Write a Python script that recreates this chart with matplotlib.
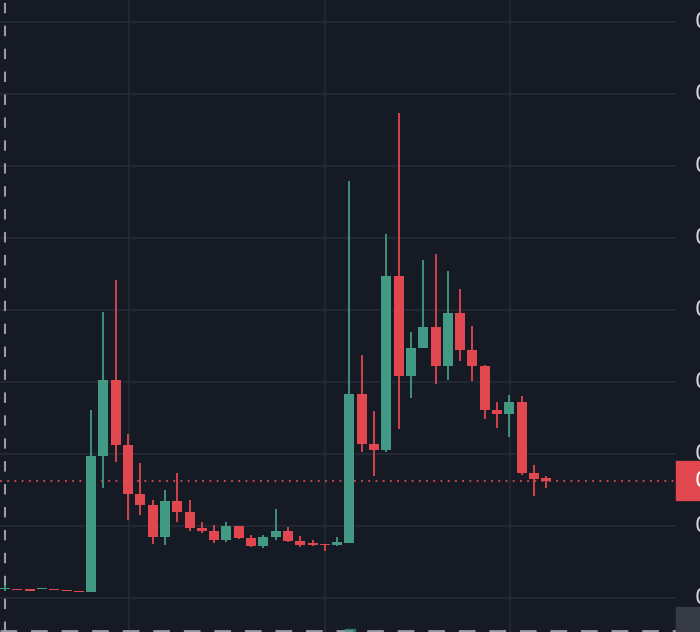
import matplotlib
matplotlib.use("Agg")
import matplotlib.pyplot as plt
import numpy as np

# candle readings (price units, 72 units per grid step)
opens = [43, 43, 42, 43, 43, 42, 41, 40, 176, 252, 187, 138, 127, 95, 131, 120, 104, 101, 92, 106,
         94, 86, 95, 101, 91, 89, 88, 87, 89, 238, 188, 182, 356, 256, 284, 305, 266, 319, 282, 266,
         222, 218, 230, 159, 154]
closes = [43, 42, 41.5, 43, 42, 41, 40, 176, 252, 187, 138, 127, 95, 131, 120, 104, 101, 92, 106, 94,
          86, 95, 101, 91, 87, 87, 87, 90, 238, 188, 182, 356, 256, 284, 305, 266, 319, 282, 266, 222,
          218, 230, 159, 153, 151]
highs = [47, 43, 42, 43, 43, 42, 41, 222, 320, 352, 198, 169, 132, 142, 159, 132, 110, 107, 110, 106,
         97, 97, 123, 105, 96, 92, 88, 95, 451, 277, 221, 398, 519, 300, 372, 378, 361, 343, 306, 267,
         230, 237, 236, 167, 156]
lows = [41, 42, 41.5, 43, 42, 41, 40, 40, 144, 170, 112, 117, 88, 87, 110, 101, 99, 89, 90, 93,
        85, 84, 92, 90, 85, 86, 81, 86, 89, 180, 156, 180, 203, 234, 284, 248, 252, 271, 251, 213,
        204, 195, 157, 136, 144]
x_first, x_step = 5.0, 12.3
price_line = 151
grid_levels = [610, 538, 466, 394, 322, 250, 178, 106, 34]
vgrid = [129, 325, 510]

BG = "#161a25"
GREEN = "#429a84"
RED = "#e0474f"
GRID = "#262a36"

fig = plt.figure(figsize=(7.0, 6.32), dpi=100, facecolor=BG)
ax = fig.add_axes([0, 0, 676 / 700, 1])
ax.set_facecolor(BG)
ax.set_xlim(0, 676)
ax.set_ylim(0, 632)
for s in ax.spines.values():
    s.set_visible(False)
ax.set_xticks([])
ax.set_yticks([])

for g in grid_levels:
    ax.axhline(g, color=GRID, lw=1.2, zorder=0)
for v in vgrid:
    ax.axvline(v, color=GRID, lw=1.2, zorder=0)

xs = x_first + x_step * np.arange(len(opens))
for x, o, c, h, l in zip(xs, opens, closes, highs, lows):
    col = GREEN if c >= o else RED
    ax.vlines(x, l, h, color=col, lw=1.3, zorder=2)
    lo, hi = min(o, c), max(o, c)
    ax.add_patch(plt.Rectangle((x - 5, lo), 10, max(hi - lo, 1.5), color=col, zorder=3, lw=0))

ax.axhline(price_line, color=RED, lw=1.3, ls=(0, (1, 3)), zorder=1)
ax.axvline(5, color="#9a9ca3", lw=1.5, ls=(0, (5, 6)), zorder=1)
ax.axhline(1, color="#9a9ca3", lw=2, ls=(0, (6, 5)), zorder=1)
ax.add_patch(plt.Rectangle((345, 0), 10, 3, color=GREEN, alpha=0.6, zorder=2))

# right price scale (clipped labels)
for g in grid_levels:
    fig.text(695 / 700, g / 632, "0", color="#d1d4dc", fontsize=15, va="center", ha="left")
fig.patches.append(plt.Rectangle((676 / 700, 132 / 632), 24 / 700, 39 / 632,
                                 transform=fig.transFigure, color=RED))
fig.text(695 / 700, price_line / 632, "0", color="white", fontsize=15, va="center", ha="left")
fig.patches.append(plt.Rectangle((676 / 700, 0), 24 / 700, 25 / 632,
                                 transform=fig.transFigure, color="#363a45"))

fig.savefig("out.png", dpi=100, facecolor=BG)
